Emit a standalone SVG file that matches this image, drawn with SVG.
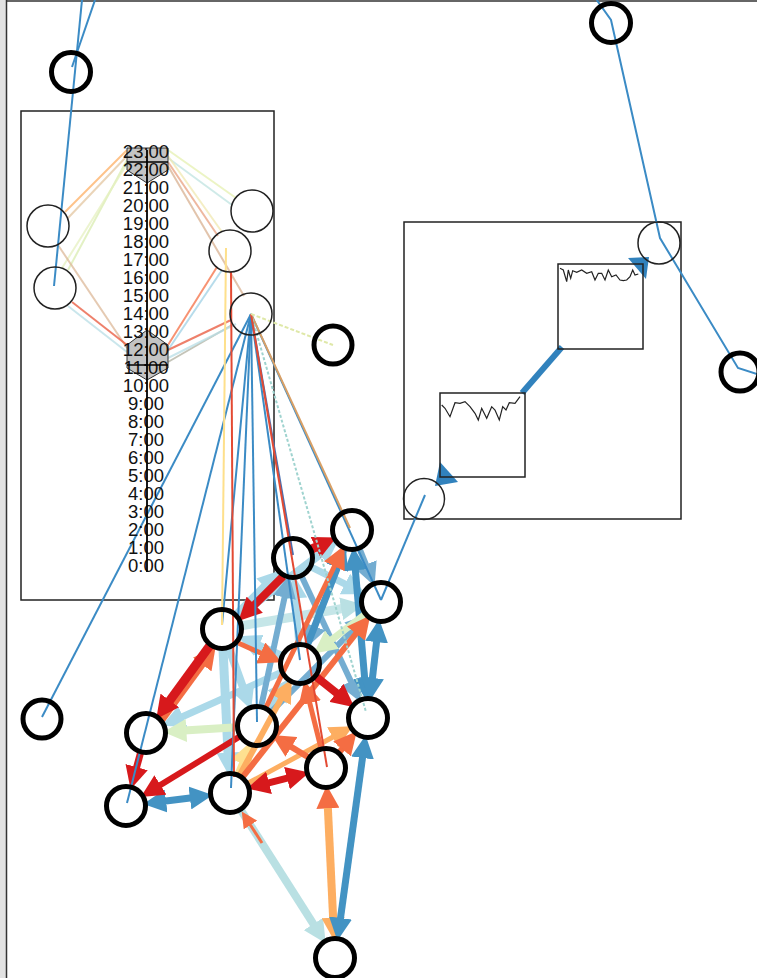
<svg xmlns="http://www.w3.org/2000/svg" width="757" height="978" viewBox="0 0 757 978">
<style>
.ring{fill:none;stroke:#000;stroke-width:5}
.tring{fill:none;stroke:#222;stroke-width:1.5}
.box{fill:none;stroke:#222;stroke-width:1.5}
.lbl{font-family:"Liberation Sans",Arial,sans-serif;font-size:18.5px;fill:#111;text-anchor:middle}
.thin{fill:none;stroke-width:2}
.tl{fill:none;stroke-width:2;opacity:0.75}
.e{fill:none}
.spark{fill:none;stroke:#222;stroke-width:1.2}
</style>
<defs>
<marker id="m-r" viewBox="0 0 20 20" refX="9" refY="10" markerWidth="23" markerHeight="23" markerUnits="userSpaceOnUse" orient="auto-start-reverse"><path d="M0,0 L20,10 L0,20 z" fill="#d7191c"/></marker>
<marker id="m-or" viewBox="0 0 20 20" refX="9" refY="10" markerWidth="23" markerHeight="23" markerUnits="userSpaceOnUse" orient="auto-start-reverse"><path d="M0,0 L20,10 L0,20 z" fill="#f46d43"/></marker>
<marker id="m-o" viewBox="0 0 20 20" refX="9" refY="10" markerWidth="23" markerHeight="23" markerUnits="userSpaceOnUse" orient="auto-start-reverse"><path d="M0,0 L20,10 L0,20 z" fill="#fdae61"/></marker>
<marker id="m-y" viewBox="0 0 20 20" refX="9" refY="10" markerWidth="23" markerHeight="23" markerUnits="userSpaceOnUse" orient="auto-start-reverse"><path d="M0,0 L20,10 L0,20 z" fill="#fee090"/></marker>
<marker id="m-g" viewBox="0 0 20 20" refX="9" refY="10" markerWidth="23" markerHeight="23" markerUnits="userSpaceOnUse" orient="auto-start-reverse"><path d="M0,0 L20,10 L0,20 z" fill="#d9efc4"/></marker>
<marker id="m-c" viewBox="0 0 20 20" refX="9" refY="10" markerWidth="23" markerHeight="23" markerUnits="userSpaceOnUse" orient="auto-start-reverse"><path d="M0,0 L20,10 L0,20 z" fill="#b9e0e3"/></marker>
<marker id="m-lb" viewBox="0 0 20 20" refX="9" refY="10" markerWidth="23" markerHeight="23" markerUnits="userSpaceOnUse" orient="auto-start-reverse"><path d="M0,0 L20,10 L0,20 z" fill="#abd9e9"/></marker>
<marker id="m-mb" viewBox="0 0 20 20" refX="9" refY="10" markerWidth="23" markerHeight="23" markerUnits="userSpaceOnUse" orient="auto-start-reverse"><path d="M0,0 L20,10 L0,20 z" fill="#74add1"/></marker>
<marker id="m-b" viewBox="0 0 20 20" refX="9" refY="10" markerWidth="23" markerHeight="23" markerUnits="userSpaceOnUse" orient="auto-start-reverse"><path d="M0,0 L20,10 L0,20 z" fill="#4393c3"/></marker>
<marker id="m-or-s" viewBox="0 0 20 20" refX="10" refY="10" markerWidth="16" markerHeight="16" markerUnits="userSpaceOnUse" orient="auto-start-reverse"><path d="M0,0 L20,10 L0,20 z" fill="#f46d43"/></marker>
</defs>

<rect x="0" y="0" width="757" height="978" fill="#fff"/>
<rect x="0" y="0" width="6" height="978" fill="#e2e2e2"/>
<line x1="6.5" y1="0" x2="6.5" y2="978" stroke="#333" stroke-width="1.5"/>
<line x1="6" y1="1" x2="757" y2="1" stroke="#333" stroke-width="1.5"/>

<g id="timeline-box">
<rect class="box" x="21" y="111" width="253" height="489"/>
</g>
<g id="sparkline-box">
<rect class="box" x="404" y="222" width="277" height="297"/>
</g>

<g id="connectors">
 <line class="tl" stroke="#fdae61" x1="127" y1="150" x2="65" y2="212"/>
 <line class="tl" stroke="#e3c6a0" x1="127" y1="156" x2="68" y2="218"/>
 <line class="tl" stroke="#d9ecb0" x1="127" y1="160" x2="68" y2="270"/>
 <line class="tl" stroke="#e6f0c0" x1="127" y1="164" x2="62" y2="268"/>
 <line class="tl" stroke="#dcb898" x1="58" y1="245" x2="127" y2="348"/>
 <line class="tl" stroke="#e8553a" x1="72" y1="302" x2="127" y2="345"/>
 <line class="tl" stroke="#b8dde6" x1="68" y1="306" x2="127" y2="352"/>
 <line class="tl" stroke="#e6f0b0" x1="168" y1="150" x2="236" y2="198"/>
 <line class="tl" stroke="#bfe3e0" x1="168" y1="158" x2="232" y2="205"/>
 <line class="tl" stroke="#e8a080" x1="168" y1="162" x2="218" y2="236"/>
 <line class="tl" stroke="#f0e8b0" x1="168" y1="156" x2="222" y2="232"/>
 <line class="tl" stroke="#d8b090" x1="168" y1="166" x2="244" y2="296"/>
 <line class="tl" stroke="#f46d43" stroke-width="3" x1="168" y1="345" x2="217" y2="267"/>
 <line class="tl" stroke="#9fd0e4" x1="168" y1="350" x2="222" y2="270"/>
 <line class="tl" stroke="#e8553a" x1="168" y1="350" x2="231" y2="320"/>
 <line class="tl" stroke="#b0b0a0" x1="168" y1="362" x2="232" y2="325"/>
 <line class="tl" stroke="#b8dde6" x1="168" y1="358" x2="236" y2="324"/>

 <path class="e" stroke="#b9e0e3" stroke-width="8" d="M240.7,809.9 L318.9,932.7" marker-end="url(#m-c)"/>
 <path class="e" stroke="#f46d43" stroke-width="3" d="M262,843 L246.1,818.3" marker-end="url(#m-or-s)"/>
 <path class="e" stroke="#fdae61" stroke-width="8" d="M327.4,798 L333.6,928" marker-start="url(#m-or)" marker-end="url(#m-o)"/>
 <path class="e" stroke="#4393c3" stroke-width="7" d="M363.9,747.7 L339.1,928.3" marker-start="url(#m-b)" marker-end="url(#m-b)"/>
 <path class="e" stroke="#abd9e9" stroke-width="9" d="M223,649 L228.5,763" marker-end="url(#m-lb)"/>
 <path class="e" stroke="#abd9e9" stroke-width="8" d="M228.8,647.8 L246.8,697.8" marker-end="url(#m-lb)"/>
 <path class="e" stroke="#abd9e9" stroke-width="7" d="M281.8,672.2 L173.4,720.7" marker-end="url(#m-lb)"/>
 <path class="e" stroke="#d9efc4" stroke-width="8" d="M237,727.3 L176,731.1" marker-end="url(#m-g)"/>
 <path class="e" stroke="#fee090" stroke-width="6" d="M237.5,774.4 L245.8,753.8" marker-end="url(#m-y)"/>
 <path class="e" stroke="#c5e6e8" stroke-width="9" d="M241.7,625.7 L351.4,607" marker-end="url(#m-c)"/>
 <path class="e" stroke="#abd9e9" stroke-width="8" d="M237.9,616.9 L328.1,548.2" marker-end="url(#m-lb)"/>
 <path class="e" stroke="#abd9e9" stroke-width="8" d="M236.1,614.9 L271.8,579.2" marker-end="url(#m-lb)"/>
 <path class="e" stroke="#abd9e9" stroke-width="8" d="M281.8,655.8 L249.4,641.3" marker-end="url(#m-lb)"/>
 <path class="e" stroke="#abd9e9" stroke-width="7" d="M310.9,566.9 L354.2,588.6" marker-end="url(#m-lb)"/>
 <path class="e" stroke="#abd9e9" stroke-width="7" d="M298.7,644 L295,588" marker-end="url(#m-lb)"/>
 <path class="e" stroke="#abd9e9" stroke-width="7" d="M268.4,709.6 L282.9,688.6" marker-end="url(#m-lb)"/>
 <path class="e" stroke="#74add1" stroke-width="6" d="M271.1,711.9 L359.8,623.2" marker-end="url(#m-mb)"/>
 <path class="e" stroke="#74add1" stroke-width="6" d="M261.2,706.4 L286.7,587.3" marker-end="url(#m-mb)"/>
 <path class="e" stroke="#74add1" stroke-width="6" d="M301.5,576.1 L355.3,690.8" marker-end="url(#m-mb)"/>
 <path class="e" stroke="#74add1" stroke-width="6" d="M359.5,548.6 L369.8,574.2" marker-end="url(#m-mb)"/>
 <path class="e" stroke="#74add1" stroke-width="6" d="M344.8,548.6 L310.9,636" marker-end="url(#m-mb)"/>
 <path class="e" stroke="#4393c3" stroke-width="7" d="M307.2,645.4 L341.1,558" marker-end="url(#m-b)"/>
 <path class="e" stroke="#4393c3" stroke-width="7" d="M354.5,559.9 L365.5,688.1" marker-start="url(#m-b)" marker-end="url(#m-b)"/>
 <path class="e" stroke="#4393c3" stroke-width="7" d="M377.7,631.8 L371.3,688.2" marker-start="url(#m-b)" marker-end="url(#m-b)"/>
 <path class="e" stroke="#d9efc4" stroke-width="7" d="M365.1,614.2 L323.8,645.8" marker-end="url(#m-g)"/>
 <path class="e" stroke="#fdae61" stroke-width="5" d="M247.6,783.5 L341.7,732.3" marker-end="url(#m-o)"/>
 <path class="e" stroke="#fdae61" stroke-width="6" d="M239.5,775.4 L285.7,690.4" marker-end="url(#m-o)"/>
 <path class="e" stroke="#f46d43" stroke-width="6" d="M242.4,777.3 L362.4,625.5" marker-end="url(#m-or)"/>
 <path class="e" stroke="#f46d43" stroke-width="5" d="M265.7,708 L338.9,557" marker-end="url(#m-or)"/>
 <path class="e" stroke="#f46d43" stroke-width="6" d="M308.9,757.6 L282.6,741.6" marker-end="url(#m-or)"/>
 <path class="e" stroke="#f46d43" stroke-width="6" d="M338.9,752.7 L348.7,741" marker-end="url(#m-or)"/>
 <path class="e" stroke="#f46d43" stroke-width="5" d="M321.1,748.6 L307.3,693.1" marker-end="url(#m-or)"/>
 <path class="e" stroke="#f46d43" stroke-width="5" d="M237.7,642.7 L270.1,657.2" marker-end="url(#m-or)"/>
 <path class="e" stroke="#d7191c" stroke-width="8" d="M283.1,576.3 L247.4,612" marker-end="url(#m-r)"/>
 <path class="e" stroke="#d7191c" stroke-width="9" d="M311.1,549.4 L324.9,542.9" marker-end="url(#m-r)"/>
 <path class="e" stroke="#d7191c" stroke-width="8" d="M315.7,676.4 L344.5,699.3" marker-end="url(#m-r)"/>
 <path class="e" stroke="#d7191c" stroke-width="7" d="M259,785.4 L297,775.6" marker-start="url(#m-r)" marker-end="url(#m-r)"/>
 <path class="e" stroke="#4393c3" stroke-width="7" d="M200.2,796.7 L155.8,802.3" marker-start="url(#m-b)" marker-end="url(#m-b)"/>
 <path class="e" stroke="#d7191c" stroke-width="6" d="M239.9,736.4 L151.6,790.4" marker-end="url(#m-r)"/>
 <path class="e" stroke="#d7191c" stroke-width="7" d="M140.7,752.3 L133.9,777.1" marker-end="url(#m-r)"/>
 <path class="e" stroke="#f46d43" stroke-width="7" d="M161.8,719.9 L208.3,656.2" marker-end="url(#m-or)"/>
 <path class="e" stroke="#d7191c" stroke-width="9" d="M210.2,645.1 L163.7,708.8" marker-end="url(#m-r)"/>

 <line x1="522" y1="393" x2="562" y2="347" stroke="#3182bd" stroke-width="6"/>
 <polygon points="628,258 649,257 646,279" fill="#3182bd"/>
 <polygon points="440,462 458,482 435,486" fill="#3182bd"/>

 <polyline class="thin" stroke="#3b8bc5" points="596.7,0 611,20 660,238 738,368 757,374"/>
 <line class="thin" stroke="#3b8bc5" x1="82" y1="0" x2="54" y2="286"/>
 <line class="thin" stroke="#3b8bc5" x1="95" y1="0" x2="72" y2="67"/>
 <line class="thin" stroke="#3b8bc5" x1="425" y1="495" x2="381" y2="600"/>
 <line class="thin" stroke="#3b8bc5" x1="42" y1="717" x2="251" y2="314"/>
 <line class="thin" stroke="#3b8bc5" x1="251" y1="314" x2="127" y2="803"/>
 <line class="thin" stroke="#3b8bc5" x1="251" y1="314" x2="222" y2="625"/>
 <line class="thin" stroke="#3b8bc5" x1="251" y1="314" x2="231" y2="788"/>
 <line class="thin" stroke="#3b8bc5" x1="251" y1="314" x2="257" y2="722"/>
 <line class="thin" stroke="#3b8bc5" x1="251" y1="314" x2="300" y2="660"/>
 <line class="thin" stroke="#4a6fb0" x1="251" y1="314" x2="293" y2="555"/>
 <line class="thin" stroke="#3b8bc5" x1="251" y1="314" x2="381" y2="600"/>
 <line class="thin" stroke="#d9a066" x1="251" y1="314" x2="350" y2="528"/>
 <line class="thin" stroke="#9fd3cf" stroke-dasharray="3,2" x1="251" y1="314" x2="366" y2="712"/>
 <line class="thin" stroke="#e34a33" stroke-width="1.5" x1="251" y1="314" x2="327" y2="767"/>
 <line class="thin" stroke="#dfe8a8" stroke-dasharray="4,2" x1="251" y1="314" x2="333" y2="345"/>
 <line class="thin" stroke="#fee08b" x1="226" y1="248" x2="222" y2="625"/>
 <line class="thin" stroke="#e34a33" x1="231" y1="272" x2="234" y2="777"/>
</g>

<g id="timeline">
 <polygon points="127,148 168,148 168,170 147,183 127,170" fill="#c4c4c4" stroke="#333" stroke-width="1"/>
 <polygon points="147,330 168,345 168,368 147,380 127,368 127,345" fill="#c4c4c4" stroke="#333" stroke-width="1"/>
 <text class="lbl" x="146" y="157.5">23:00</text>
 <text class="lbl" x="146" y="175.5">22:00</text>
 <text class="lbl" x="146" y="193.5">21:00</text>
 <text class="lbl" x="146" y="211.5">20:00</text>
 <text class="lbl" x="146" y="229.5">19:00</text>
 <text class="lbl" x="146" y="247.5">18:00</text>
 <text class="lbl" x="146" y="265.5">17:00</text>
 <text class="lbl" x="146" y="283.5">16:00</text>
 <text class="lbl" x="146" y="301.5">15:00</text>
 <text class="lbl" x="146" y="319.5">14:00</text>
 <text class="lbl" x="146" y="337.5">13:00</text>
 <text class="lbl" x="146" y="355.5">12:00</text>
 <text class="lbl" x="146" y="373.5">11:00</text>
 <text class="lbl" x="146" y="391.5">10:00</text>
 <text class="lbl" x="146" y="409.5">9:00</text>
 <text class="lbl" x="146" y="427.5">8:00</text>
 <text class="lbl" x="146" y="445.5">7:00</text>
 <text class="lbl" x="146" y="463.5">6:00</text>
 <text class="lbl" x="146" y="481.5">5:00</text>
 <text class="lbl" x="146" y="499.5">4:00</text>
 <text class="lbl" x="146" y="517.5">3:00</text>
 <text class="lbl" x="146" y="535.5">2:00</text>
 <text class="lbl" x="146" y="553.5">1:00</text>
 <text class="lbl" x="146" y="571.5">0:00</text>
 <line x1="147" y1="150" x2="147" y2="572" stroke="#000" stroke-width="1.8"/>
 <line x1="127" y1="162" x2="168" y2="162" stroke="#000" stroke-width="1.5"/>
 <line x1="127" y1="365" x2="168" y2="365" stroke="#000" stroke-width="1.5"/>
</g>

<g id="spark-1">
 <rect class="box" x="440" y="393" width="85" height="84"/>
 <polyline class="spark" points="441.7,405 445,408.3 450,416.7 455,402.7 460,403.3 465,401.7 470,406.7 475,413.3 478.3,420 481.7,408.3 486.7,418.3 491.7,406.7 495,410 499.3,420 502.7,406.7 506,410 509.3,402.7 515,403.3 520,396.7"/>
</g>
<g id="spark-2">
 <rect class="box" x="558" y="264" width="85" height="85"/>
 <polyline class="spark" points="560,268.3 563.3,270 566.7,281.7 568.3,270 570.7,278.3 572.7,270.7 576.7,272.3 581.7,270 586.7,273.3 591.7,271.7 595,280 598.3,273.3 601.7,273.3 605,280 608.3,270 611.7,276.7 616,275 620,280 623.3,280.7 626.7,280 630,276.7 632.7,270 635,275 638.3,274"/>
</g>

<g id="t1"><circle class="tring" cx="48" cy="226" r="21"/></g>
<g id="t2"><circle class="tring" cx="55" cy="288" r="21"/></g>
<g id="t3"><circle class="tring" cx="252" cy="211" r="21"/></g>
<g id="t4"><circle class="tring" cx="230" cy="251" r="21"/></g>
<g id="t5"><circle class="tring" cx="251" cy="314" r="21"/></g>
<g id="t6"><circle class="tring" cx="659" cy="243" r="21"/></g>
<g id="t7"><circle class="tring" cx="424" cy="499" r="20.5"/></g>

<g id="n-a"><circle class="ring" cx="71" cy="72" r="19.5"/></g>
<g id="n-b"><circle class="ring" cx="611" cy="23" r="19.5"/></g>
<g id="n-c"><circle class="ring" cx="740" cy="372" r="19"/></g>
<g id="n-d"><circle class="ring" cx="333" cy="345" r="19"/></g>
<g id="n-e"><circle class="ring" cx="42" cy="719" r="19"/></g>
<g id="A"><circle class="ring" cx="352" cy="530" r="19.5"/></g>
<g id="B"><circle class="ring" cx="293" cy="558" r="19.5"/></g>
<g id="C"><circle class="ring" cx="381" cy="602" r="19.5"/></g>
<g id="D"><circle class="ring" cx="222" cy="629" r="19.5"/></g>
<g id="E"><circle class="ring" cx="300" cy="664" r="19.5"/></g>
<g id="F"><circle class="ring" cx="368" cy="718" r="19.5"/></g>
<g id="G"><circle class="ring" cx="146" cy="733" r="19.5"/></g>
<g id="H"><circle class="ring" cx="257" cy="726" r="19.5"/></g>
<g id="I"><circle class="ring" cx="326" cy="768" r="19.5"/></g>
<g id="J"><circle class="ring" cx="230" cy="793" r="19.5"/></g>
<g id="K"><circle class="ring" cx="126" cy="806" r="19.5"/></g>
<g id="L"><circle class="ring" cx="335" cy="958" r="19.5"/></g>
</svg>
